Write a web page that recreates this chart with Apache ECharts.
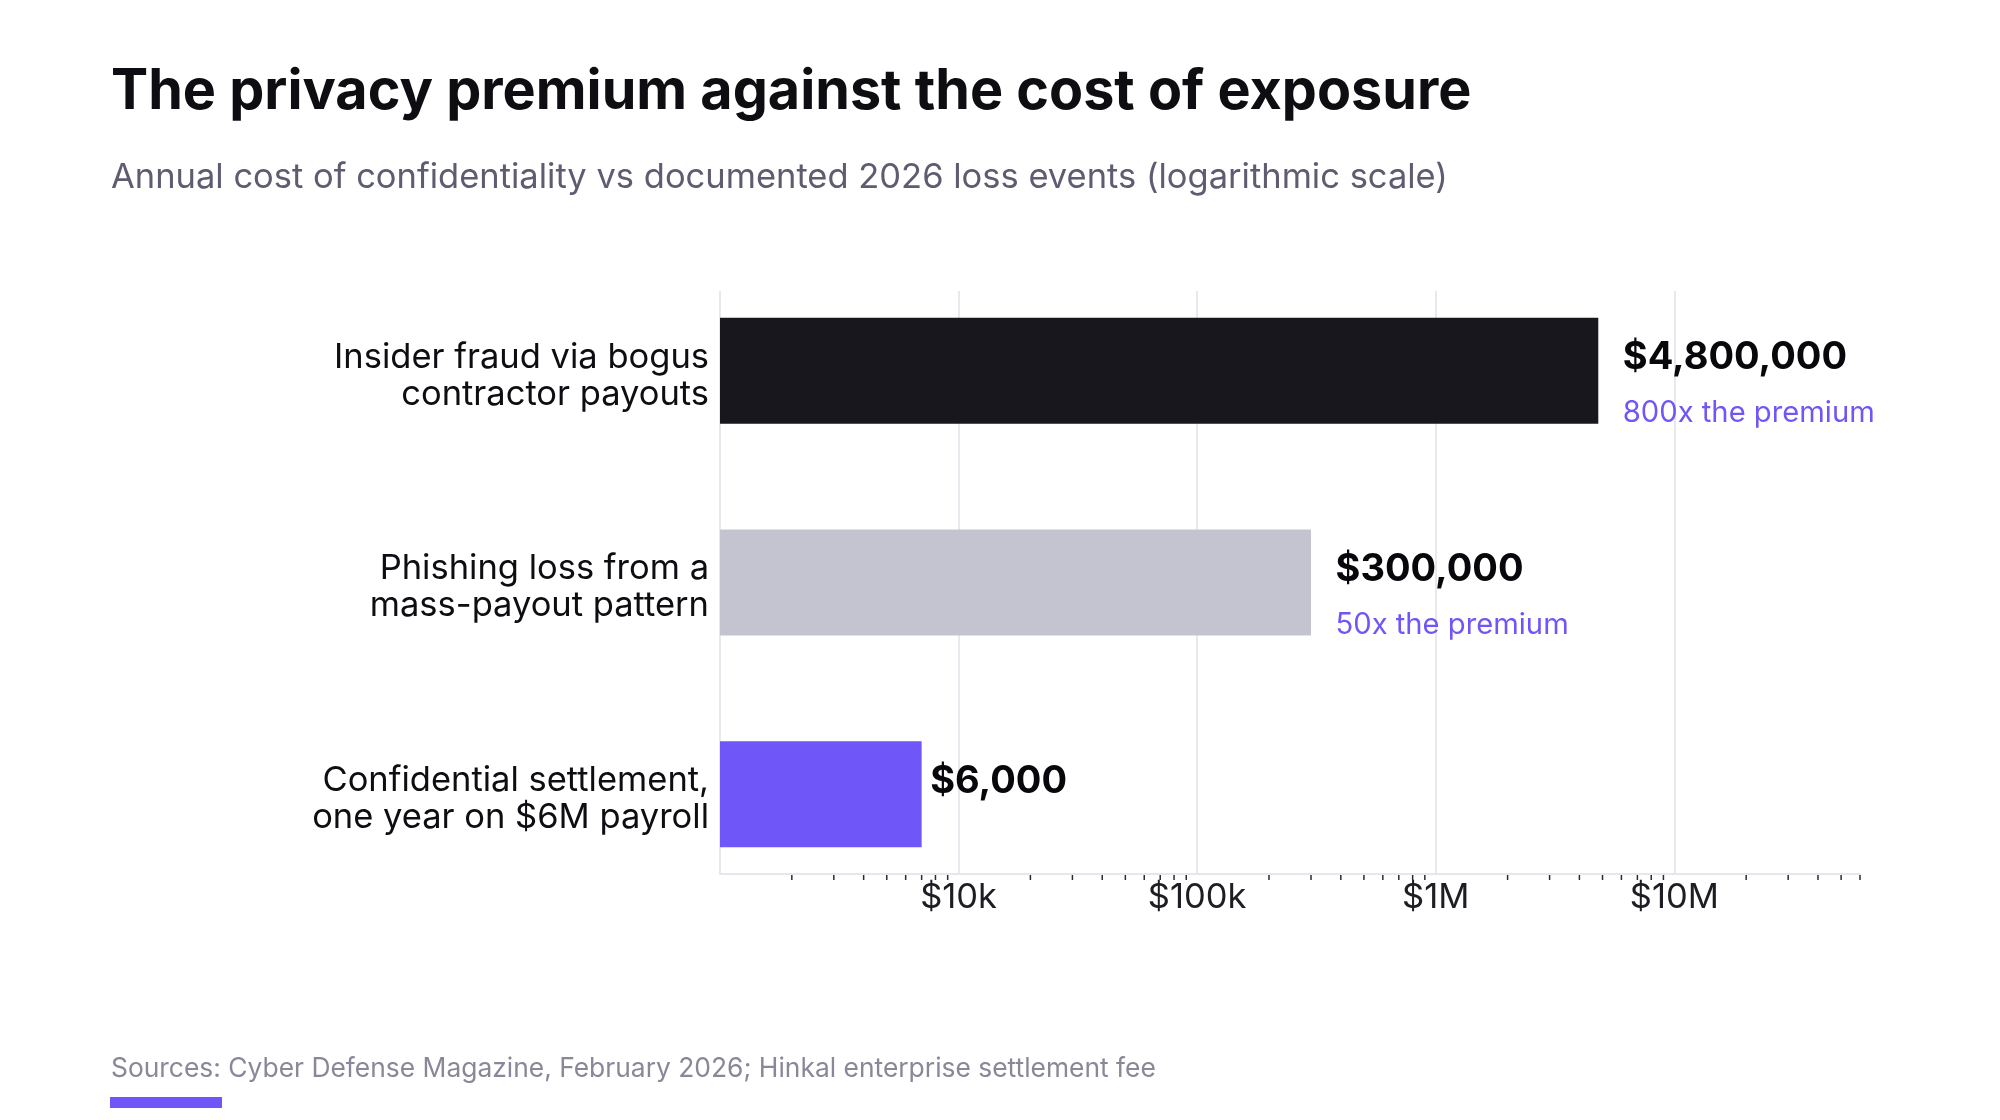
<!DOCTYPE html>
<html>
<head>
<meta charset="utf-8">
<script src="https://cdn.jsdelivr.net/npm/echarts@6/dist/echarts.min.js"></script>
<style>
html, body { margin: 0; padding: 0; background: #fff; }
#chart { width: 2000px; height: 1120px; }
</style>
</head>
<body>
<div id="chart"></div>
<script>
// data
var categories = ['Insider fraud via bogus\ncontractor payouts', 'Phishing loss from a\nmass-payout pattern', 'Confidential settlement,\none year on $6M payroll'];
var amounts = [4800000, 300000, 6000];
var barEnds = [4800000, 300000, 7000];
var amountLabels = ['$4,800,000', '$300,000', '$6,000'];
var premiumNotes = ['800x the premium', '50x the premium', ' '];
var tickValues = [10000, 100000, 1000000, 10000000];
var tickLabels = ['$10k', '$100k', '$1M', '$10M'];
var minorTicks = [2e3, 3e3, 4e3, 5e3, 6e3, 7e3, 8e3, 9e3,
    2e4, 3e4, 4e4, 5e4, 6e4, 7e4, 8e4, 9e4,
    2e5, 3e5, 4e5, 5e5, 6e5, 7e5, 8e5, 9e5,
    2e6, 3e6, 4e6, 5e6, 6e6, 7e6, 8e6, 9e6,
    2e7, 3e7, 4e7, 5e7, 6e7];
var axisMin = 1000, axisMax = 60000000;

var barColors = ['#18171d', '#c4c4d1', '#6e56f8'];
var FONT = 'Inter';

var dataChart = echarts.init(document.getElementById('chart'));

var barData = [], labelData = [];
for (var i = 0; i < categories.length; i++) {
    barData.push({ value: barEnds[i], itemStyle: { color: barColors[i] } });
    labelData.push({ value: [amounts[i], i], label: { formatter: '{v|' + amountLabels[i] + '}\n{n|' + premiumNotes[i] + '}' } });
}

var option = {
    animation: false,
    backgroundColor: '#fff',
    grid: [
        { left: 720, right: 140, top: 291, bottom: 246 },   // axis + gridlines
        { left: 720, right: 140, top: 265, bottom: 220 }    // bars
    ],
    xAxis: [
        {
            type: 'log', logBase: 10, gridIndex: 0, min: axisMin, max: axisMax,
            axisLine: { show: true, lineStyle: { color: '#e6e6ec', width: 2 } },
            axisTick: { show: false },
            splitLine: { show: true, showMinLine: false, showMaxLine: false, lineStyle: { color: '#e8e8ee', width: 2 } },
            axisLabel: {
                showMinLabel: false, showMaxLabel: false,
                fontFamily: FONT, fontSize: 34.5, color: '#1d1d24', margin: 6,
                formatter: function (v) {
                    var k = tickValues.indexOf(Math.round(v));
                    return k >= 0 ? tickLabels[k] : '';
                }
            }
        },
        { type: 'log', logBase: 10, gridIndex: 1, min: axisMin, max: axisMax, show: false }
    ],
    yAxis: [
        { type: 'value', gridIndex: 0, min: 0, max: 1, show: false },
        {
            type: 'category', gridIndex: 1, inverse: true, data: categories,
            axisLine: { show: false }, axisTick: { show: false }, splitLine: { show: false },
            axisLabel: {
                margin: 11, align: 'right',
                formatter: function (v) {
                    // small spacer line on top nudges the two text lines down a bit
                    return '{s| }\n{c|' + v.split('\n').join('}\n{c|') + '}';
                },
                rich: {
                    s: { fontSize: 1, lineHeight: 10 },
                    c: { fontFamily: FONT, fontSize: 34.5, lineHeight: 37, color: '#0d0d12', align: 'right' }
                }
            }
        }
    ],
    series: [
        {
            type: 'bar', xAxisIndex: 1, yAxisIndex: 1, data: barData,
            barWidth: 106, silent: true
        },
        {
            type: 'scatter', xAxisIndex: 1, yAxisIndex: 1, data: labelData,
            symbolSize: 1, itemStyle: { color: 'rgba(0,0,0,0)', opacity: 1 }, silent: true,
            label: {
                show: true, position: 'right', distance: 24, offset: [0, 15], opacity: 1,
                rich: {
                    v: { fontFamily: FONT, fontWeight: 'bold', fontSize: 38, color: '#08080c', lineHeight: 55 },
                    n: { fontFamily: FONT, fontSize: 29.2, color: '#6e56f8', lineHeight: 56 }
                }
            }
        },
        {
            type: 'custom', xAxisIndex: 0, yAxisIndex: 0, silent: true, clip: false,
            data: minorTicks.map(function (v) { return [v, 0]; }),
            renderItem: function (params, api) {
                var p = api.coord([api.value(0), 0]);
                return {
                    type: 'line',
                    shape: { x1: p[0], y1: p[1] + 1, x2: p[0], y2: p[1] + 6 },
                    style: { stroke: '#2a2a33', lineWidth: 1.5 }
                };
            }
        }
    ],
    graphic: [
        { type: 'text', left: 111, top: 64, style: { text: 'The privacy premium against the cost of exposure', font: 'bold 55.7px Inter', fill: '#0d0d12' } },
        { type: 'text', left: 111, top: 160, style: { text: 'Annual cost of confidentiality vs documented 2026 loss events (logarithmic scale)', font: '34.5px Inter', fill: '#5e5c70' } },
        { type: 'text', left: 111, top: 1056, style: { text: 'Sources: Cyber Defense Magazine, February 2026; Hinkal enterprise settlement fee', font: '26.4px Inter', fill: '#8a8898' } },
        { type: 'rect', left: 110, top: 1097, shape: { width: 112, height: 11 }, style: { fill: '#6e56f8' } }
    ]
};
dataChart.setOption(option);
</script>
</body>
</html>
